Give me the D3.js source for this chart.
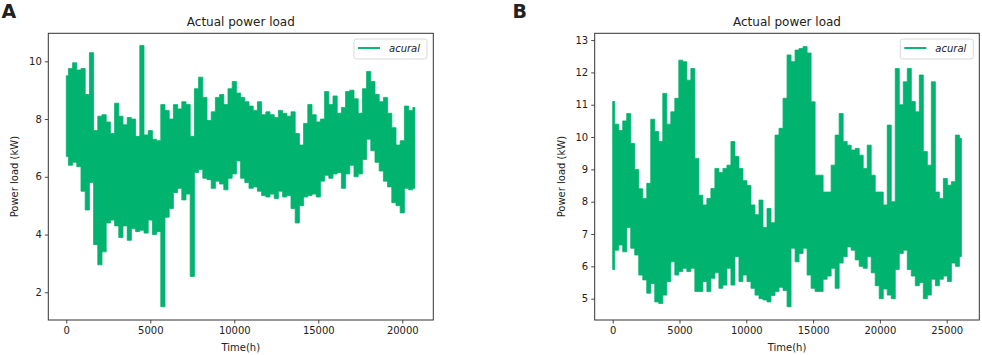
<!DOCTYPE html>
<html><head><meta charset="utf-8">
<script src="https://cdn.jsdelivr.net/npm/d3@7"></script>
<style>
body{margin:0;background:#fff}
text{font-family:"DejaVu Sans",sans-serif;fill:#222}
</style>
</head><body>
<svg id="c" width="982" height="355"></svg>
<script>
// ---------- data ----------
// Panel A: per 250 h window, upper and lower extent of the load (kW)
const hoursA = d3.range(0, 20751, 250);
const highA = [9.5,9.75,9.95,9.7,9.75,8.85,10.3,7.6,8.1,8.15,7.9,7.5,8.55,8.1,7.8,8.05,8.0,7.4,10.55,7.45,
  7.6,7.3,7.25,8.5,8.3,8.0,8.5,8.35,8.6,8.5,7.4,9.05,9.45,8.75,7.95,8.25,8.75,8.85,8.5,9.05,
  9.3,8.9,8.75,8.6,8.45,8.3,8.6,8.15,8.25,8.15,8.05,8.3,8.2,8.1,8.25,7.5,7.1,7.85,8.5,8.15,
  7.9,8.0,8.95,8.5,8.8,8.2,8.4,8.95,9.0,8.7,8.2,9.05,9.65,9.3,8.85,8.6,8.75,8.2,7.7,7.1,
  7.25,8.45,8.3,8.4];
const lowA = [6.7,6.4,6.5,6.35,5.5,4.85,5.8,3.65,2.95,3.4,4.4,4.5,4.3,3.9,4.3,3.8,4.2,4.1,4.15,4.05,
  4.5,4.0,4.1,1.5,4.6,4.9,5.45,5.6,5.2,5.4,2.55,6.15,6.25,5.95,5.9,5.6,5.85,5.75,5.55,5.95,
  6.1,6.55,5.95,5.8,5.6,5.65,5.5,5.35,5.3,5.4,5.25,5.5,5.3,5.35,4.9,4.4,5.0,5.3,5.35,5.4,
  5.3,5.85,6.05,5.95,6.1,6.15,5.6,6.1,6.4,6.0,6.1,6.6,7.3,6.9,6.5,6.2,5.85,5.65,5.1,5.0,
  4.75,5.6,5.55,5.6];

// Panel B: per 300 h window
const hoursB = d3.range(0, 26101, 300);
const highB = [11.1,10.4,10.2,10.5,10.73,9.8,9.0,8.4,8.1,8.57,10.55,10.17,9.86,11.35,10.4,10.78,11.2,12.38,12.33,11.76,
  12.12,9.34,8.2,7.9,8.1,8.41,9.03,8.9,9.03,9.13,9.86,9.4,9.03,8.65,8.5,7.9,7.6,8.05,7.2,7.79,
  7.35,10.06,10.27,11.2,12.54,12.33,12.69,12.74,12.8,12.6,11.09,8.82,8.82,8.3,8.3,9.13,10.06,10.73,9.86,9.75,
  9.6,9.65,9.44,9.03,9.75,8.82,8.3,8.3,7.9,10.37,8.0,12.12,11.0,11.71,12.12,11.1,10.78,11.92,9.55,9.13,
  11.71,8.3,8.1,8.72,8.51,8.62,10.06,9.96];
const lowB = [5.9,6.5,6.66,6.45,7.2,6.56,6.35,5.73,5.58,5.17,5.47,4.9,4.85,5.11,5.53,6.14,5.73,5.84,5.94,5.84,
  5.94,5.22,5.22,5.53,5.22,5.63,5.8,5.32,5.42,5.94,5.42,6.3,5.53,5.73,5.53,5.32,5.11,5.0,4.96,4.9,
  5.1,5.22,5.35,5.25,4.75,6.56,6.14,6.4,6.56,5.73,5.32,5.22,5.22,5.6,5.7,5.94,5.32,6.1,6.3,6.6,
  6.5,6.2,6.0,5.94,6.3,5.8,5.4,5.0,5.3,5.11,5.0,5.9,6.4,6.5,5.9,5.7,5.4,5.5,5.0,5.11,
  5.6,5.4,5.6,5.7,5.53,6.1,6.0,6.3];

const ticksXA = [0,5000,10000,15000,20000];
const ticksYA = [2,4,6,8,10];
const ticksXB = [0,5000,10000,15000,20000,25000];
const ticksYB = [5,6,7,8,9,10,11,12,13];
const chartTitle = "Actual power load";
const xLabel = "Time(h)";
const yLabel = "Power load (kW)";
const seriesName = "acural";
const lineColor = "#00b36e";

// ---------- drawing ----------
const svg = d3.select("#c");

function panel(o){
  const g = svg.append("g");
  const x = d3.scaleLinear().domain(o.xdom).range([o.x0, o.x1]);
  const y = d3.scaleLinear().domain(o.ydom).range([o.y1, o.y0]);
  const rows = o.hours.map((t,i)=>({t, hi:o.high[i], lo:o.low[i]}));
  // dense series drawn as the span it covers in each time window
  g.append("path").datum(rows)
    .attr("d", d3.area().curve(d3.curveStep).x(d=>x(d.t)).y0(d=>y(d.lo)).y1(d=>y(d.hi)))
    .attr("fill",lineColor).attr("stroke",lineColor).attr("stroke-width",0.8)
    .attr("stroke-linejoin","round");

  const ax = g.append("g").attr("transform",`translate(0,${o.y1})`)
    .call(d3.axisBottom(x).tickValues(o.tx).tickFormat(d3.format("d")).tickSize(3.5).tickPadding(3));
  const ay = g.append("g").attr("transform",`translate(${o.x0},0)`)
    .call(d3.axisLeft(y).tickValues(o.ty).tickFormat(d3.format("d")).tickSize(3.5).tickPadding(3));
  [ax,ay].forEach(a=>{
    a.select(".domain").remove();
    a.selectAll("line").attr("stroke","#333").attr("stroke-width",0.9);
    a.selectAll("text").attr("font-size","10px").attr("fill","#222").attr("font-family","DejaVu Sans");
  });
  g.append("rect").attr("x",o.x0).attr("y",o.y0).attr("width",o.x1-o.x0).attr("height",o.y1-o.y0)
    .attr("fill","none").attr("stroke","#333").attr("stroke-width",1);

  g.append("text").attr("x",(o.x0+o.x1)/2).attr("y",26).attr("text-anchor","middle")
    .attr("font-size","12px").text(chartTitle);
  g.append("text").attr("x",(o.x0+o.x1)/2).attr("y",350.5).attr("text-anchor","middle")
    .attr("font-size","10px").text(xLabel);
  g.append("text").attr("transform",`translate(${o.ylx},${(o.y0+o.y1)/2}) rotate(-90)`)
    .attr("text-anchor","middle").attr("font-size","10px").text(yLabel);
  g.append("text").attr("x",o.lx).attr("y",17.5).attr("font-size","19px").attr("font-weight","bold")
    .attr("font-family","Liberation Sans, Arial, sans-serif").attr("fill","#000").text(o.letter);

  // legend
  const lg = g.append("g").attr("transform",`translate(${o.legX},39)`);
  lg.append("rect").attr("width",73).attr("height",20).attr("rx",2.5)
    .attr("fill","#fff").attr("fill-opacity",0.8).attr("stroke","#d5d5d5").attr("stroke-width",0.9);
  lg.append("line").attr("x1",4).attr("x2",26).attr("y1",9).attr("y2",9)
    .attr("stroke",lineColor).attr("stroke-width",1.9);
  lg.append("text").attr("x",35).attr("y",13.2).attr("font-size","10px").attr("font-style","italic").text(seriesName);
}

panel({hours:hoursA, high:highA, low:lowA, xdom:[-1071,21845], ydom:[1.04,10.97],
  x0:48.3, x1:433.3, y0:33.3, y1:320, tx:ticksXA, ty:ticksYA, ylx:18.3, lx:1.5, letter:"A", legX:354});
panel({hours:hoursB, high:highB, low:lowB, xdom:[-1347,27440], ydom:[4.34,13.21],
  x0:594.7, x1:979.3, y0:33.3, y1:320, tx:ticksXB, ty:ticksYB, ylx:564.7, lx:512.5, letter:"B", legX:900.3});
</script>
</body></html>
